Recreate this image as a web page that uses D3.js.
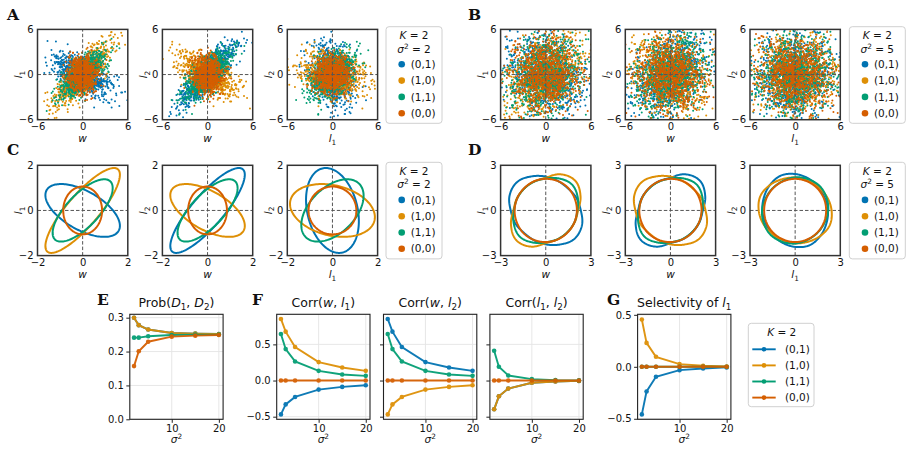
<!DOCTYPE html>
<html><head><meta charset="utf-8">
<script src="https://cdn.jsdelivr.net/npm/d3@7"></script>
<style>
body{margin:0;background:#fff;}
svg{display:block;font-family:"DejaVu Sans",sans-serif;}
</style></head><body>
<svg id="chart" width="912" height="453"></svg>
<script>
// ---------------- DATA ----------------
const seriesLabels = ["(0,1)", "(1,0)", "(1,1)", "(0,0)"];
const seriesColors = ["#0173b2", "#de8f05", "#029e73", "#d55e00"];

// x values of panels E-G
const sigma2 = [2, 3, 5, 10, 15, 20];
const sigmaTicks = [10, 20];
const probTicks = [0, 0.1, 0.2, 0.3];
const corrTicks = [-0.5, 0, 0.5];
const scatterTicks = [-6, 0, 6];
const ellipseTicksC = [-2, 0, 2];
const contourTicksD = [-3, 0, 3];

// E: Prob(D1, D2), one row per series
const probD = [
  [0.300, 0.278, 0.265, 0.255, 0.253, 0.252],
  [0.300, 0.278, 0.265, 0.255, 0.253, 0.252],
  [0.241, 0.241, 0.245, 0.249, 0.250, 0.250],
  [0.157, 0.201, 0.229, 0.244, 0.247, 0.249]
];
// F: correlations
const corrWL1 = [
  [-0.468, -0.330, -0.227, -0.125, -0.088, -0.065],
  [0.852, 0.676, 0.463, 0.255, 0.180, 0.134],
  [0.644, 0.435, 0.264, 0.134, 0.083, 0.065],
  [0, 0, 0, 0, 0, 0]
];
const corrWL2 = [
  [0.852, 0.676, 0.463, 0.255, 0.180, 0.134],
  [-0.468, -0.330, -0.227, -0.125, -0.088, -0.065],
  [0.644, 0.435, 0.264, 0.134, 0.083, 0.065],
  [0, 0, 0, 0, 0, 0]
];
const corrL1L2 = [
  [-0.398, -0.218, -0.111, -0.030, -0.014, -0.005],
  [-0.398, -0.218, -0.111, -0.030, -0.014, -0.005],
  [0.412, 0.190, 0.070, 0.020, 0.006, 0.002],
  [0, 0, 0, 0, 0, 0]
];
// G: selectivity of l1
const selectivityL1 = [
  [-0.458, -0.237, -0.096, -0.032, -0.016, -0.006],
  [0.455, 0.230, 0.096, 0.026, 0.010, 0.003],
  [0, 0, 0, 0, 0, 0],
  [0, 0, 0, 0, 0, 0]
];

// Distribution statistics of (w, l1, l2) per series, sigma^2 = 2 (panels A, C)
const stdW_s2  = [1.65, 1.65, 1.33, 0.86];
const stdL1_s2 = [1.17, 1.88, 1.38, 1.06];
const stdL2_s2 = [1.88, 1.17, 1.38, 1.06];
const rWL1_s2  = [-0.58, 0.84, 0.72, 0.0];
const rWL2_s2  = [0.84, -0.58, 0.72, 0.0];
const rL1L2_s2 = [-0.25, -0.25, 0.47, 0.0];
// sigma^2 = 5 (panel B)
const stdW_s5  = [2.35, 2.35, 2.25, 2.07];
const stdL1_s5 = [2.25, 2.45, 2.28, 2.10];
const stdL2_s5 = [2.45, 2.25, 2.28, 2.10];
const rWL1_s5  = [-0.23, 0.46, 0.26, 0.0];
const rWL2_s5  = [0.46, -0.23, 0.26, 0.0];
const rL1L2_s5 = [-0.11, -0.11, 0.07, 0.0];

// Panel D contours: radius read at 16 angles (deg, counter-clockwise from +x)
const contourAngles = [0, 22.5, 45, 67.5, 90, 112.5, 135, 157.5, 180, 202.5, 225, 247.5, 270, 292.5, 315, 337.5];
const contourWL1 = [
  [2.33, 2.20, 2.08, 2.12, 2.25, 2.45, 2.68, 2.60, 2.33, 2.20, 2.08, 2.12, 2.25, 2.45, 2.68, 2.60],
  [2.15, 2.50, 2.78, 2.60, 2.17, 2.08, 2.04, 2.08, 2.15, 2.50, 2.78, 2.60, 2.17, 2.08, 2.04, 2.08],
  [2.10, 2.30, 2.45, 2.30, 2.12, 2.06, 2.04, 2.06, 2.10, 2.30, 2.45, 2.30, 2.12, 2.06, 2.04, 2.06],
  [2.07, 2.08, 2.11, 2.11, 2.10, 2.08, 2.06, 2.06, 2.07, 2.08, 2.11, 2.11, 2.10, 2.08, 2.06, 2.06]
];
const contourWL2 = [contourWL1[1], contourWL1[0], contourWL1[2], contourWL1[3]];
const contourL1L2 = [
  [2.18, 2.14, 2.18, 2.30, 2.42, 2.50, 2.38, 2.25, 2.18, 2.14, 2.18, 2.30, 2.42, 2.50, 2.38, 2.25],
  [2.42, 2.30, 2.18, 2.14, 2.18, 2.25, 2.38, 2.50, 2.42, 2.30, 2.18, 2.14, 2.18, 2.25, 2.38, 2.50],
  [2.20, 2.25, 2.30, 2.25, 2.20, 2.12, 2.10, 2.12, 2.20, 2.25, 2.30, 2.25, 2.20, 2.12, 2.10, 2.12],
  [2.06, 2.07, 2.08, 2.09, 2.10, 2.09, 2.08, 2.07, 2.06, 2.07, 2.08, 2.09, 2.10, 2.09, 2.08, 2.07]
];

// Typed standard-normal draws, combined by index to build the scatter clouds
const sampleZ = [0.598, -1.235, 0.063, -0.364, 1.732, -0.755, 0.232, -2.394, 0.935, -0.146,
  -0.502, 1.150, 0.410, -0.021, -1.569, 0.812, 0.189, -0.649, 2.8, -0.275,
  1.331, -0.935, 0.105, -1.073, 0.701, -0.454, -0.189, 1.960, 0.319, -0.872,
  0.549, -1.440, 0.021, 1.002, -0.598, 0.275, -1.960, 0.872, -0.063, 0.454,
  -0.812, 1.440, -0.232, 0.146, -1.150, 0.649, -0.410, 2.394, -0.105, 1.235,
  -0.701, 0.364, -1.732, 0.755, -0.319, 1.569, -0.549, 0.502, -1.331, 1.073,
  -2.8, -1.002];
const nPoints = 900;

// ---------------- HELPERS ----------------
const svg = d3.select('#chart');

function mathText(sel, parts, fs) {
  let cur = 0;
  parts.forEach(p => {
    const txt = typeof p === 'string' ? p : p[0];
    const st = typeof p === 'string' ? '' : p[1];
    const ts = sel.append('tspan').text(txt);
    let target = 0;
    if (st.indexOf('sub') >= 0) { ts.attr('font-size', fs * 0.7); target = fs * 0.25; }
    else if (st.indexOf('sup') >= 0) { ts.attr('font-size', fs * 0.7); target = -fs * 0.4; }
    if (st.indexOf('it') >= 0) ts.attr('font-style', 'italic');
    if (target - cur !== 0) ts.attr('dy', target - cur);
    cur = target;
  });
}
const LBL = {
  w: [['w', 'it']],
  l1: [['l', 'it'], ['1', 'sub']],
  l2: [['l', 'it'], ['2', 'sub']]
};
const pairs = [[0, 1, 'w', 'l1'], [0, 2, 'w', 'l2'], [1, 2, 'l1', 'l2']];

function chol3(S) {
  const L = [[0, 0, 0], [0, 0, 0], [0, 0, 0]];
  L[0][0] = Math.sqrt(S[0][0]);
  L[1][0] = S[1][0] / L[0][0];
  L[1][1] = Math.sqrt(S[1][1] - L[1][0] ** 2);
  L[2][0] = S[2][0] / L[0][0];
  L[2][1] = (S[2][1] - L[2][0] * L[1][0]) / L[1][1];
  L[2][2] = Math.sqrt(S[2][2] - L[2][0] ** 2 - L[2][1] ** 2);
  return L;
}
function statsOf(sdW, sdL1, sdL2, r01, r02, r12) {
  return d3.range(4).map(s => ({
    sd: [sdW[s], sdL1[s], sdL2[s]],
    R: [[1, r01[s], r02[s]], [r01[s], 1, r12[s]], [r02[s], r12[s], 1]]
  }));
}
function samples(stats, g) {
  const n = sampleZ.length;
  const z = (a, b) => 0.8 * sampleZ[a % n] + 0.6 * sampleZ[b % n];
  return stats.map((st, s) => {
    const S = st.R.map((row, i) => row.map((v, j) => v * st.sd[i] * st.sd[j]));
    const L = chol3(S);
    return d3.range(nPoints).map(t => {
      const r = t % n, q = Math.floor(t / n);
      const z1 = z(r + 3 * q + 13 * s + 29 * g, 17 * r + 5 * q + 7 * s + 3 * g + 9);
      const z2 = z(19 * r + 7 * q + 11 * s + 5 * g + 3, 23 * r + 13 * q + 3 * s + 17 * g + 1);
      const z3 = z(29 * r + 11 * q + 5 * s + 7 * g + 11, 37 * r + 41 * q + 19 * s + 13 * g + 7);
      return [L[0][0] * z1, L[1][0] * z1 + L[1][1] * z2, L[2][0] * z1 + L[2][1] * z2 + L[2][2] * z3];
    });
  });
}
// periodic Catmull-Rom interpolation of a radius profile
function radiusAt(radii, u) {
  const n = radii.length;
  const i = Math.floor(u), t = u - i;
  const p0 = radii[(i - 1 + n) % n], p1 = radii[i % n], p2 = radii[(i + 1) % n], p3 = radii[(i + 2) % n];
  return 0.5 * ((2 * p1) + (-p0 + p2) * t + (2 * p0 - 5 * p1 + 4 * p2 - p3) * t * t + (-p0 + 3 * p1 - 3 * p2 + p3) * t * t * t);
}

let clipId = 0;
function squarePanel(left, top, size, domain, ticks, xl, yl, drawContent, zeroOnTop) {
  const x = d3.scaleLinear().domain(domain).range([left, left + size]);
  const y = d3.scaleLinear().domain(domain).range([top + size, top]);
  const id = 'clip' + (clipId++);
  svg.append('clipPath').attr('id', id).append('rect')
    .attr('x', left).attr('y', top).attr('width', size).attr('height', size);
  const g = svg.append('g').attr('clip-path', `url(#${id})`);
  const zero = () => {
    g.append('line').attr('x1', x(domain[0])).attr('x2', x(domain[1])).attr('y1', y(0)).attr('y2', y(0))
      .attr('stroke', '#555').attr('stroke-width', 1).attr('stroke-dasharray', '3.5,2');
    g.append('line').attr('y1', y(domain[0])).attr('y2', y(domain[1])).attr('x1', x(0)).attr('x2', x(0))
      .attr('stroke', '#555').attr('stroke-width', 1).attr('stroke-dasharray', '3.5,2');
  };
  if (!zeroOnTop) zero();
  drawContent(g, x, y);
  if (zeroOnTop) zero();
  svg.append('rect').attr('x', left).attr('y', top).attr('width', size).attr('height', size)
    .attr('fill', 'none').attr('stroke', '#333').attr('stroke-width', 1.5);
  const fmt = d3.format('d');
  const ax = svg.append('g').attr('transform', `translate(0,${top + size})`)
    .call(d3.axisBottom(x).tickValues(ticks).tickSize(0).tickPadding(3.3).tickFormat(fmt));
  ax.select('.domain').remove();
  ax.attr('font-size', 10).attr('font-family', '"DejaVu Sans", sans-serif');
  ax.selectAll('text').attr('fill', '#111');
  const ay = svg.append('g').attr('transform', `translate(${left},0)`)
    .call(d3.axisLeft(y).tickValues(ticks).tickSize(0).tickPadding(4).tickFormat(fmt));
  ay.select('.domain').remove();
  ay.attr('font-size', 10).attr('font-family', '"DejaVu Sans", sans-serif');
  ay.selectAll('text').attr('fill', '#111');
  const tx = svg.append('text').attr('x', left + size / 2).attr('y', top + size + 22.3)
    .attr('text-anchor', 'middle').attr('font-size', 10.5).attr('fill', '#111');
  mathText(tx, LBL[xl], 10.5);
  const ty = svg.append('text').attr('transform', `translate(${left - 15.5},${top + size / 2}) rotate(-90)`)
    .attr('text-anchor', 'middle').attr('font-size', 10.5).attr('fill', '#111');
  mathText(ty, LBL[yl], 10.5);
}

function dotLegend(left, top, sig) {
  const g = svg.append('g');
  g.append('rect').attr('x', left).attr('y', top).attr('width', 56).attr('height', 96.6)
    .attr('rx', 3).attr('fill', '#fff').attr('stroke', '#d0d0d0').attr('stroke-width', 1);
  const t1 = g.append('text').attr('x', left + 28).attr('y', top + 12.5).attr('text-anchor', 'middle')
    .attr('font-size', 10.5).attr('fill', '#111');
  mathText(t1, [['K', 'it'], ' = 2'], 10.5);
  const t2 = g.append('text').attr('x', left + 28).attr('y', top + 26).attr('text-anchor', 'middle')
    .attr('font-size', 10.5).attr('fill', '#111');
  mathText(t2, [['σ', 'it'], ['2', 'sup'], ' = ' + sig], 10.5);
  seriesLabels.forEach((lab, i) => {
    const cy = top + 37.6 + i * 16.3;
    g.append('circle').attr('cx', left + 15.7).attr('cy', cy).attr('r', 3.3).attr('fill', seriesColors[i]);
    g.append('text').attr('x', left + 24.7).attr('y', cy).attr('dy', '0.35em')
      .attr('font-size', 10.5).attr('fill', '#111').text(lab);
  });
}

function panelLetter(x, y, t) {
  svg.append('text').attr('x', x).attr('y', y).attr('font-family', '"DejaVu Serif", serif')
    .attr('font-weight', 'bold').attr('font-size', 15.5).attr('fill', '#111').text(t);
}

// ---------------- ROWS A / B (scatter) ----------------
const statsS2 = statsOf(stdW_s2, stdL1_s2, stdL2_s2, rWL1_s2, rWL2_s2, rL1L2_s2);
const statsS5 = statsOf(stdW_s5, stdL1_s5, stdL2_s5, rWL1_s5, rWL2_s5, rL1L2_s5);
const SIZE = 90.3;
const leftsLeft = [37.5, 162.4, 287.3];
const leftsRight = [500.6, 625.3, 750];
const topAB = 29.4, topCD = 165.3;

function scatterRow(stats, gIdx, lefts) {
  const pts = samples(stats, gIdx);
  pairs.forEach(([a, b, xl, yl], k) => {
    squarePanel(lefts[k], topAB, SIZE, [-6, 6], scatterTicks, xl, yl, (g, x, y) => {
      pts.forEach((arr, s) => {
        g.append('g').attr('fill', seriesColors[s]).selectAll('circle').data(arr).join('circle')
          .attr('cx', d => x(d[a])).attr('cy', d => y(d[b])).attr('r', 1.0);
      });
    }, true);
  });
}
scatterRow(statsS2, 0, leftsLeft);
scatterRow(statsS5, 1, leftsRight);

// ---------------- ROW C (ellipses) ----------------
pairs.forEach(([a, b, xl, yl], k) => {
  squarePanel(leftsLeft[k], topCD, SIZE, [-2, 2], ellipseTicksC, xl, yl, (g, x, y) => {
    statsS2.forEach((st, s) => {
      const sx = st.sd[a], sy = st.sd[b], rho = st.R[a][b];
      const ell = d3.range(160).map(i => {
        const t = 2 * Math.PI * i / 160;
        return [sx * Math.cos(t), sy * (rho * Math.cos(t) + Math.sqrt(1 - rho * rho) * Math.sin(t))];
      });
      g.append('path').attr('d', d3.line().x(d => x(d[0])).y(d => y(d[1])).curve(d3.curveLinearClosed)(ell))
        .attr('fill', 'none').attr('stroke', seriesColors[s]).attr('stroke-width', 2);
    });
  }, false);
});

// ---------------- ROW D (contours) ----------------
[contourWL1, contourWL2, contourL1L2].forEach((cset, k) => {
  const [a, b, xl, yl] = pairs[k];
  squarePanel(leftsRight[k], topCD, SIZE, [-3, 3], contourTicksD, xl, yl, (g, x, y) => {
    cset.forEach((radii, s) => {
      const n = contourAngles.length, step = 360 / n;
      const p = d3.range(0, n, 0.05).map(u => {
        const th = (contourAngles[0] + u * step) * Math.PI / 180;
        const r = radiusAt(radii, u);
        return [r * Math.cos(th), r * Math.sin(th)];
      });
      g.append('path').attr('d', d3.line().x(d => x(d[0])).y(d => y(d[1])).curve(d3.curveLinearClosed)(p))
        .attr('fill', 'none').attr('stroke', seriesColors[s]).attr('stroke-width', 2);
    });
  }, false);
});

dotLegend(386, 26.7, 2);
dotLegend(849.3, 26.7, 5);
dotLegend(386, 162.3, 2);
dotLegend(849.3, 162.3, 5);

panelLetter(7, 20, 'A');
panelLetter(468, 20, 'B');
panelLetter(7, 155, 'C');
panelLetter(468, 155, 'D');

// ---------------- ROW E / F / G (lines) ----------------
const lineTop = 314.3, lineH = 105, lineW = 93.3;
function linePanel(left, data, yDomain, yTicks, showY, titleParts, yFmt) {
  const x = d3.scaleLinear().domain([1.1, 20.9]).range([left, left + lineW]);
  const y = d3.scaleLinear().domain(yDomain).range([lineTop + lineH, lineTop]);
  const g = svg.append('g');
  sigmaTicks.forEach(v => g.append('line').attr('x1', x(v)).attr('x2', x(v)).attr('y1', lineTop).attr('y2', lineTop + lineH)
    .attr('stroke', '#e4e4e4').attr('stroke-width', 0.9));
  yTicks.forEach(v => g.append('line').attr('x1', left).attr('x2', left + lineW).attr('y1', y(v)).attr('y2', y(v))
    .attr('stroke', '#e4e4e4').attr('stroke-width', 0.9));
  data.forEach((vals, s) => {
    const pts = vals.map((v, i) => [sigma2[i], v]);
    const sg = g.append('g').attr('opacity', 0.94);
    sg.append('path').attr('d', d3.line().x(d => x(d[0])).y(d => y(d[1]))(pts))
      .attr('fill', 'none').attr('stroke', seriesColors[s]).attr('stroke-width', 1.9);
    sg.selectAll('circle').data(pts).join('circle').attr('cx', d => x(d[0])).attr('cy', d => y(d[1]))
      .attr('r', 2.3).attr('fill', seriesColors[s]);
  });
  g.append('rect').attr('x', left).attr('y', lineTop).attr('width', lineW).attr('height', lineH)
    .attr('fill', 'none').attr('stroke', '#222').attr('stroke-width', 1.1);
  const ax = svg.append('g').attr('transform', `translate(0,${lineTop + lineH})`)
    .call(d3.axisBottom(x).tickValues(sigmaTicks).tickSize(3.5).tickPadding(2.1).tickFormat(d3.format('d')));
  ax.select('.domain').remove();
  ax.attr('font-size', 10).attr('font-family', '"DejaVu Sans", sans-serif');
  ax.selectAll('line').attr('stroke', '#222');
  ax.selectAll('text').attr('fill', '#111');
  const ay = svg.append('g').attr('transform', `translate(${left},0)`)
    .call(d3.axisLeft(y).tickValues(yTicks).tickSize(3.5).tickPadding(2.5).tickFormat(showY ? yFmt : () => ''));
  ay.select('.domain').remove();
  ay.attr('font-size', 10).attr('font-family', '"DejaVu Sans", sans-serif');
  ay.selectAll('line').attr('stroke', '#222');
  ay.selectAll('text').attr('fill', '#111');
  const xl = svg.append('text').attr('x', left + lineW / 2).attr('y', 443).attr('text-anchor', 'middle')
    .attr('font-size', 10.5).attr('fill', '#111');
  mathText(xl, [['σ', 'it'], ['2', 'sup']], 10.5);
  const tt = svg.append('text').attr('x', left + lineW / 2).attr('y', 306.5).attr('text-anchor', 'middle')
    .attr('font-size', 12.5).attr('fill', '#111');
  mathText(tt, titleParts, 12.5);
}
const f1 = d3.format('.1f');
linePanel(129.8, probD, [0, 0.31], probTicks, true,
  ['Prob(', ['D', 'it'], ['1', 'sub'], ', ', ['D', 'it'], ['2', 'sub'], ')'], f1);
linePanel(276.7, corrWL1, [-0.536, 0.916], corrTicks, true,
  ['Corr(', ['w', 'it'], ', ', ['l', 'it'], ['1', 'sub'], ')'], f1);
linePanel(383.5, corrWL2, [-0.536, 0.916], corrTicks, false,
  ['Corr(', ['w', 'it'], ', ', ['l', 'it'], ['2', 'sub'], ')'], f1);
linePanel(489.9, corrL1L2, [-0.536, 0.916], corrTicks, false,
  ['Corr(', ['l', 'it'], ['1', 'sub'], ', ', ['l', 'it'], ['2', 'sub'], ')'], f1);
linePanel(637.6, selectivityL1, [-0.505, 0.505], corrTicks, true,
  ['Selectivity of ', ['l', 'it'], ['1', 'sub']], f1);

panelLetter(97, 305, 'E');
panelLetter(252, 305, 'F');
panelLetter(607, 305, 'G');

// G legend
(function () {
  const left = 748.3, top = 323.3;
  const g = svg.append('g');
  g.append('rect').attr('x', left).attr('y', top).attr('width', 65.7).attr('height', 83.4)
    .attr('rx', 3).attr('fill', '#fff').attr('stroke', '#d0d0d0').attr('stroke-width', 1);
  const t = g.append('text').attr('x', left + 33.4).attr('y', top + 12.2).attr('text-anchor', 'middle')
    .attr('font-size', 10.5).attr('fill', '#111');
  mathText(t, [['K', 'it'], ' = 2'], 10.5);
  seriesLabels.forEach((lab, i) => {
    const cy = top + 26 + i * 16.1;
    g.append('line').attr('x1', left + 4).attr('x2', left + 27.4).attr('y1', cy).attr('y2', cy)
      .attr('stroke', seriesColors[i]).attr('stroke-width', 1.9);
    g.append('circle').attr('cx', left + 15.7).attr('cy', cy).attr('r', 2.3).attr('fill', seriesColors[i]);
    g.append('text').attr('x', left + 36.7).attr('y', cy).attr('dy', '0.35em')
      .attr('font-size', 10.5).attr('fill', '#111').text(lab);
  });
})();
</script>
</body></html>
